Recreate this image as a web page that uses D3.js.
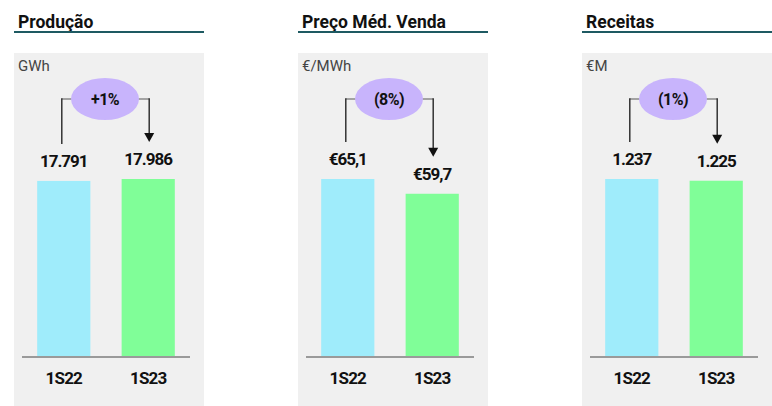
<!DOCTYPE html>
<html>
<head>
<meta charset="utf-8">
<script src="https://cdn.jsdelivr.net/npm/d3@7"></script>
<style>
  body { margin: 0; background: #fff; }
  svg text { font-family: Roboto, "Liberation Sans", sans-serif; }
</style>
</head>
<body>
<div id="chart"></div>
<script>
// data
const categories = ['1S22', '1S23'];
const titles = ['Produção', 'Preço Méd. Venda', 'Receitas'];
const units = ['GWh', '€/MWh', '€M'];
const values = [
    [17791, 17986],
    [65.1, 59.7],
    [1237, 1225]
];
const valueLabels = [
    ['17.791', '17.986'],
    ['€65,1', '€59,7'],
    ['1.237', '1.225']
];
const changes = ['+1%', '(8%)', '(1%)'];
const barColors = ['#9fecfb', '#80fe98'];

const width = 772;
const height = 406;

const svg = d3.select('#chart')
    .append('svg')
    .attr('width', width)
    .attr('height', height);

const panelW = 190;
const panelStep = 284;
const boxTop = 53;
const baseY = 357;

titles.forEach((title, i) => {
    const x0 = 14 + i * panelStep;
    const g = svg.append('g').attr('transform', `translate(${x0},0)`);

    // title + underline
    g.append('text')
        .attr('x', 4)
        .attr('y', 28)
        .attr('font-size', 17.5)
        .attr('font-weight', 700)
        .attr('fill', '#111')
        .text(title);
    g.append('line')
        .attr('x1', 0).attr('x2', panelW)
        .attr('y1', 32).attr('y2', 32)
        .attr('stroke', '#1e5a62')
        .attr('stroke-width', 2);

    // gray background
    g.append('rect')
        .attr('x', 0).attr('y', boxTop)
        .attr('width', panelW).attr('height', height - boxTop)
        .attr('fill', '#f0f0f0');

    g.append('text')
        .attr('x', 4)
        .attr('y', 71)
        .attr('font-size', 15)
        .attr('fill', '#444')
        .text(units[i]);

    const x = d3.scaleBand()
        .domain(categories)
        .range([8, 176])
        .paddingInner(0.37)
        .paddingOuter(0.18);

    const y = d3.scaleLinear()
        .domain([0, d3.max(values[i])])
        .range([baseY, 179]);

    const data = categories.map((c, j) => ({ cat: c, v: values[i][j], label: valueLabels[i][j], color: barColors[j] }));

    g.selectAll('.bar')
        .data(data)
        .enter()
        .append('rect')
        .attr('class', 'bar')
        .attr('x', (d) => x(d.cat))
        .attr('y', (d) => y(d.v))
        .attr('width', x.bandwidth())
        .attr('height', (d) => baseY - y(d.v))
        .attr('fill', (d) => d.color);

    // baseline axis
    const axis = g.append('g')
        .attr('transform', `translate(0,${baseY})`)
        .call(d3.axisBottom(x).tickSize(0).tickPadding(15));
    axis.select('.domain')
        .attr('d', 'M8,0H176')
        .attr('stroke', '#9a9a9a')
        .attr('stroke-width', 2);
    axis.selectAll('text')
        .attr('font-size', 17)
        .attr('font-weight', 700)
        .attr('letter-spacing', -0.8)
        .attr('fill', '#111')
        .attr('font-family', 'Roboto, sans-serif')
        .attr('dy', '0.71em');

    // value labels
    g.selectAll('.val')
        .data(data)
        .enter()
        .append('text')
        .attr('class', 'val')
        .attr('x', (d) => x(d.cat) + x.bandwidth() / 2)
        .attr('y', (d) => y(d.v) - 14)
        .attr('text-anchor', 'middle')
        .attr('font-size', 17)
        .attr('font-weight', 700)
        .attr('letter-spacing', -1)
        .attr('fill', '#111')
        .text((d) => d.label);

    // change bubble with connectors
    const cx = 91;
    const cy = 99;
    const rx = 34;
    const ry = 21;
    const xl = x(categories[0]) + x.bandwidth() / 2 - 2;
    const xr = x(categories[1]) + x.bandwidth() / 2 + 1;
    const yl = y(values[i][0]) - 37;
    const yr = y(values[i][1]) - 37;

    g.append('line')
        .attr('x1', xl).attr('x2', cx - rx + 2)
        .attr('y1', cy).attr('y2', cy)
        .attr('stroke', '#8a8a8a').attr('stroke-width', 1.5);
    g.append('line')
        .attr('x1', xl).attr('x2', xl)
        .attr('y1', cy - 0.75).attr('y2', yl)
        .attr('stroke', '#333').attr('stroke-width', 1.5);
    g.append('line')
        .attr('x1', cx + rx - 2).attr('x2', xr)
        .attr('y1', cy).attr('y2', cy)
        .attr('stroke', '#8a8a8a').attr('stroke-width', 1.5);
    g.append('line')
        .attr('x1', xr).attr('x2', xr)
        .attr('y1', cy - 0.75).attr('y2', yr - 8)
        .attr('stroke', '#333').attr('stroke-width', 1.5);
    g.append('path')
        .attr('d', `M${xr - 5},${yr - 9}L${xr + 5},${yr - 9}L${xr},${yr}Z`)
        .attr('fill', '#111');

    g.append('ellipse')
        .attr('cx', cx).attr('cy', cy)
        .attr('rx', rx).attr('ry', ry)
        .attr('fill', '#c8b4fc');
    g.append('text')
        .attr('x', cx)
        .attr('y', cy + 6)
        .attr('text-anchor', 'middle')
        .attr('font-size', 16)
        .attr('font-weight', 700)
        .attr('letter-spacing', -0.6)
        .attr('fill', '#111')
        .text(changes[i]);
});
</script>
</body>
</html>
